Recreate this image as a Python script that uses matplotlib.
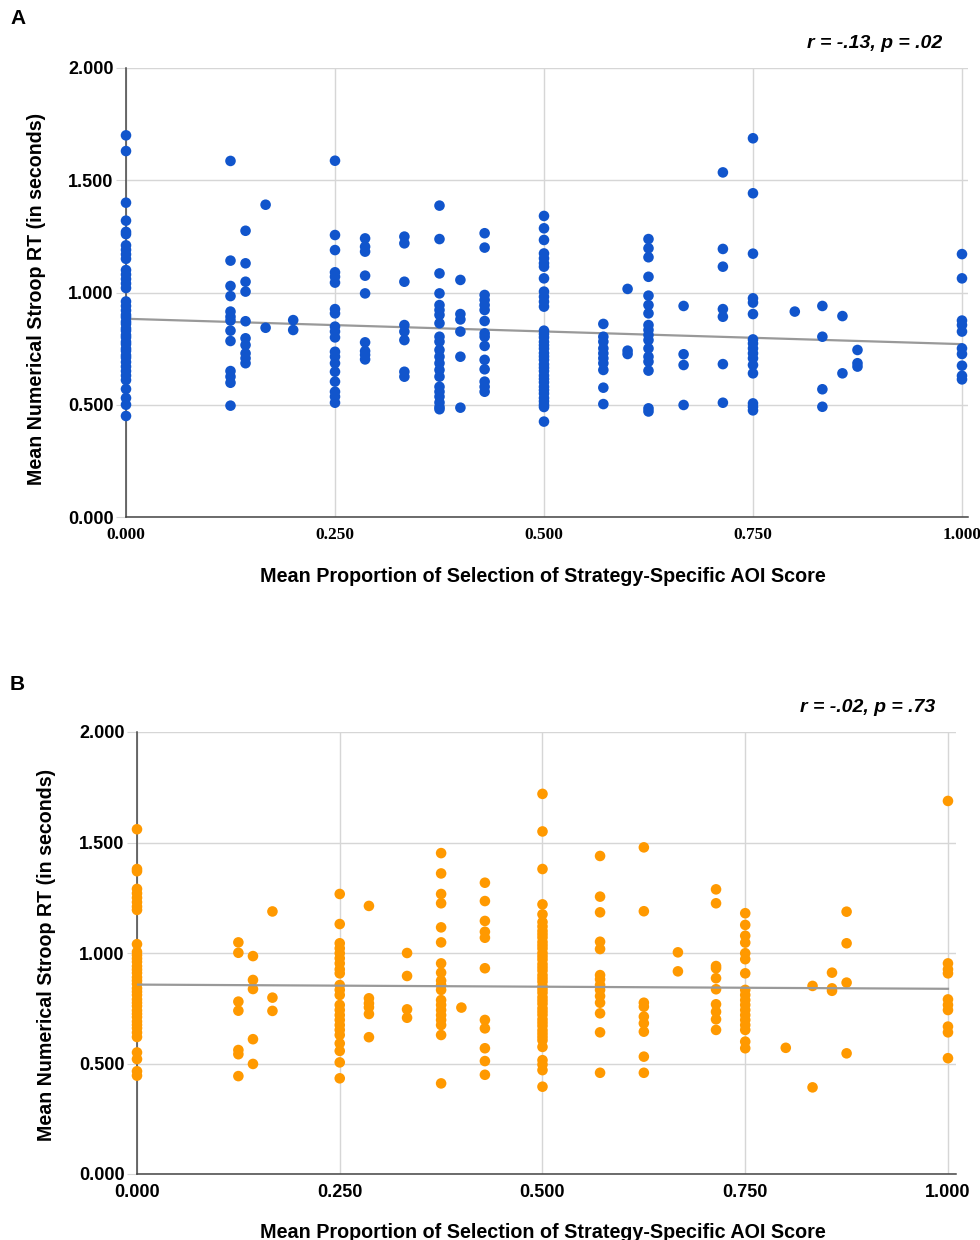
import matplotlib
matplotlib.use("Agg")
import matplotlib.pyplot as plt

# ---- panel A data (blue) ----
a_levels = [0.0, 0.125, 0.143, 0.167, 0.2, 0.25, 0.286, 0.333, 0.375, 0.4, 0.429,
            0.5, 0.571, 0.6, 0.625, 0.667, 0.714, 0.75, 0.8, 0.833, 0.857, 0.875, 1.0]
a_rt = [
    [1.70, 1.63, 1.40, 1.32, 1.27, 1.26, 1.21, 1.19, 1.17, 1.15, 1.10, 1.08, 1.06, 1.04, 1.02,
     0.96, 0.94, 0.92, 0.90, 0.89, 0.87, 0.86, 0.84, 0.83, 0.81, 0.80, 0.78, 0.77, 0.75, 0.74,
     0.72, 0.71, 0.69, 0.67, 0.65, 0.63, 0.61, 0.57, 0.53, 0.50, 0.45],
    [1.586, 1.142, 1.029, 0.984, 0.915, 0.892, 0.875, 0.83, 0.784, 0.65, 0.625, 0.598, 0.496],
    [1.275, 1.13, 1.048, 1.004, 0.872, 0.796, 0.766, 0.729, 0.707, 0.685],
    [1.391, 0.843],
    [0.877, 0.833],
    [1.587, 1.256, 1.189, 1.09, 1.07, 1.044, 0.926, 0.907, 0.848, 0.826, 0.80, 0.736, 0.714,
     0.685, 0.647, 0.603, 0.558, 0.536, 0.509],
    [1.241, 1.204, 1.182, 1.075, 0.996, 0.778, 0.739, 0.722, 0.702],
    [1.249, 1.219, 1.048, 0.855, 0.826, 0.788, 0.647, 0.625],
    [1.387, 1.238, 1.085, 0.996, 0.944, 0.922, 0.90, 0.863, 0.803, 0.781, 0.744, 0.714, 0.685,
     0.655, 0.625, 0.58, 0.558, 0.536, 0.51, 0.49, 0.48],
    [1.056, 0.904, 0.88, 0.826, 0.714, 0.487],
    [1.264, 1.20, 0.989, 0.967, 0.944, 0.922, 0.873, 0.818, 0.803, 0.762, 0.70, 0.658, 0.603,
     0.58, 0.558],
    [1.341, 1.286, 1.234, 1.174, 1.152, 1.13, 1.115, 1.063, 1.004, 0.981, 0.959, 0.937,
     0.83, 0.815, 0.80, 0.78, 0.765, 0.75, 0.73, 0.715, 0.70, 0.68, 0.665, 0.65, 0.63, 0.615,
     0.60, 0.58, 0.565, 0.55, 0.53, 0.515, 0.50, 0.49, 0.425],
    [0.86, 0.803, 0.781, 0.751, 0.729, 0.707, 0.685, 0.655, 0.576, 0.503],
    [1.016, 0.741, 0.726],
    [1.238, 1.197, 1.157, 1.07, 0.986, 0.944, 0.907, 0.855, 0.833, 0.811, 0.788, 0.751, 0.714,
     0.692, 0.652, 0.484, 0.47],
    [0.94, 0.725, 0.677, 0.499],
    [1.535, 1.194, 1.115, 0.926, 0.892, 0.681, 0.509],
    [1.687, 1.442, 1.173, 0.974, 0.955, 0.904, 0.791, 0.773, 0.751, 0.729, 0.707, 0.677, 0.64,
     0.506, 0.491, 0.475],
    [0.915],
    [0.94, 0.803, 0.569, 0.491],
    [0.895, 0.64],
    [0.744, 0.685, 0.670],
    [1.171, 1.063, 0.875, 0.855, 0.826, 0.751, 0.726, 0.674, 0.629, 0.613],
]
a_trend = [0.883, 0.770]
a_stats = "r = -.13, p = .02"

# ---- panel B data (orange) ----
b_levels = [0.0, 0.125, 0.143, 0.167, 0.25, 0.286, 0.333, 0.375, 0.4, 0.429, 0.5, 0.571,
            0.625, 0.667, 0.714, 0.75, 0.8, 0.833, 0.857, 0.875, 1.0]
b_rt = [
    [1.56, 1.38, 1.37, 1.29, 1.27, 1.25, 1.23, 1.21, 1.195, 1.04, 1.005, 0.99, 0.975, 0.96,
     0.94, 0.925, 0.91, 0.89, 0.875, 0.86, 0.84, 0.825, 0.81, 0.79, 0.775, 0.76, 0.74, 0.725,
     0.71, 0.69, 0.675, 0.66, 0.64, 0.62, 0.55, 0.52, 0.465, 0.445],
    [1.048, 1.001, 0.78, 0.739, 0.561, 0.542, 0.443],
    [0.986, 0.878, 0.837, 0.61, 0.498],
    [1.188, 0.798, 0.738],
    [1.267, 1.131, 1.044, 1.021, 0.999, 0.976, 0.953, 0.926, 0.908, 0.855, 0.833, 0.81, 0.765,
     0.742, 0.719, 0.697, 0.674, 0.652, 0.629, 0.591, 0.557, 0.505, 0.433],
    [1.213, 0.795, 0.772, 0.754, 0.724, 0.619],
    [1.0, 0.896, 0.745, 0.707],
    [1.452, 1.36, 1.267, 1.225, 1.116, 1.048, 0.953, 0.911, 0.875, 0.855, 0.833, 0.787, 0.765,
     0.742, 0.719, 0.697, 0.674, 0.629, 0.41],
    [0.753],
    [1.318, 1.235, 1.145, 1.096, 1.069, 0.931, 0.697, 0.659, 0.569, 0.511, 0.449],
    [1.72, 1.55, 1.38, 1.22, 1.175, 1.14, 1.12, 1.10, 1.085, 1.07, 1.05, 1.035, 1.02, 1.00,
     0.985, 0.97, 0.95, 0.935, 0.92, 0.90, 0.885, 0.87, 0.85, 0.835, 0.82, 0.80, 0.785, 0.77,
     0.75, 0.735, 0.72, 0.70, 0.685, 0.67, 0.65, 0.635, 0.62, 0.605, 0.575, 0.515, 0.495,
     0.47, 0.395],
    [1.439, 1.255, 1.184, 1.051, 1.018, 0.90, 0.881, 0.855, 0.833, 0.805, 0.775, 0.727, 0.641,
     0.458],
    [1.478, 1.189, 0.775, 0.757, 0.712, 0.682, 0.644, 0.531, 0.458],
    [1.003, 0.917],
    [1.288, 1.225, 0.941, 0.931, 0.886, 0.836, 0.768, 0.734, 0.70, 0.652],
    [1.18, 1.127, 1.078, 1.047, 0.999, 0.972, 0.908, 0.833, 0.81, 0.787, 0.765, 0.742, 0.719,
     0.697, 0.674, 0.652, 0.599, 0.569],
    [0.571],
    [0.851, 0.392],
    [0.911, 0.84, 0.829],
    [1.187, 1.044, 0.866, 0.546],
    [1.688, 0.953, 0.926, 0.908, 0.79, 0.765, 0.742, 0.667, 0.641, 0.524],
]
b_trend = [0.857, 0.838]
b_stats = "r = -.02, p = .73"

y_ticks = [0.0, 0.5, 1.0, 1.5, 2.0]
x_ticks = [0.0, 0.25, 0.5, 0.75, 1.0]
x_label = "Mean Proportion of Selection of Strategy-Specific AOI Score"
y_label = "Mean Numerical Stroop RT (in seconds)"

W, H = 980, 1240
fig = plt.figure(figsize=(W / 100, H / 100), dpi=100)
sans = ["Liberation Sans", "DejaVu Sans"]
serif = ["Liberation Serif", "DejaVu Serif"]


def panel(rect, levels, rts, trend, color, xmax, tick_family, tick_size, line_on_top):
   l, t, r, b = rect
   ax = fig.add_axes([l / W, 1 - b / H, (r - l) / W, (b - t) / H])
   xs = []
   ys = []
   for lv, vals in zip(levels, rts):
      xs += [lv] * len(vals)
      ys += vals
   ax.scatter(xs, ys, s=58, color=color, edgecolors="none", zorder=3, clip_on=False)
   ax.plot([0, 1], trend, color="#999999", lw=1.6, zorder=4 if line_on_top else 2)
   ax.set_xlim(0, xmax)
   ax.set_ylim(0, 2.0)
   ax.set_xticks(x_ticks)
   ax.set_yticks(y_ticks)
   ax.set_xticklabels([f"{v:.3f}" for v in x_ticks], family=tick_family,
                      fontweight="bold", fontsize=tick_size)
   ax.set_yticklabels([f"{v:.3f}" for v in y_ticks], family=sans,
                      fontweight="bold", fontsize=13)
   ax.grid(True, color="#d6d6d6", lw=1, zorder=0)
   ax.tick_params(axis="y", length=7, color="#d6d6d6", pad=2)
   ax.tick_params(axis="x", length=0, pad=7)
   for s in ["top", "right"]:
      ax.spines[s].set_visible(False)
   for s in ["left", "bottom"]:
      ax.spines[s].set_color("#444444")
      ax.spines[s].set_linewidth(1.1)
      ax.spines[s].set_zorder(2.5)
   ax.set_axisbelow(True)
   return ax


ax_a = panel((126, 68, 968, 517), a_levels, a_rt, a_trend, "#1155cc", 1.0072, serif, 12.5, False)
ax_b = panel((137, 732, 956, 1174), b_levels, b_rt, b_trend, "#ff9900", 1.0099, sans, 13, True)

fig.text(10 / W, 1 - 19 / H, "A", family=sans, fontweight="bold", fontsize=15, va="center")
fig.text(10 / W, 1 - 684 / H, "B", family=sans, fontweight="bold", fontsize=15, va="center")
fig.text(942 / W, 1 - 43 / H, a_stats, family=sans, fontweight="bold", style="italic",
         fontsize=14, ha="right", va="center")
fig.text(935 / W, 1 - 707 / H, b_stats, family=sans, fontweight="bold", style="italic",
         fontsize=14, ha="right", va="center")
fig.text(543 / W, 1 - 576 / H, x_label, family=sans, fontweight="bold", fontsize=14.2,
         ha="center", va="center")
fig.text(543 / W, 1 - 1232 / H, x_label, family=sans, fontweight="bold", fontsize=14.2,
         ha="center", va="center")
fig.text(37 / W, 1 - 299 / H, y_label, family=sans, fontweight="bold", fontsize=14.1,
         ha="center", va="center", rotation=90)
fig.text(47 / W, 1 - 955 / H, y_label, family=sans, fontweight="bold", fontsize=14.1,
         ha="center", va="center", rotation=90)

fig.savefig("out.png", dpi=100)
